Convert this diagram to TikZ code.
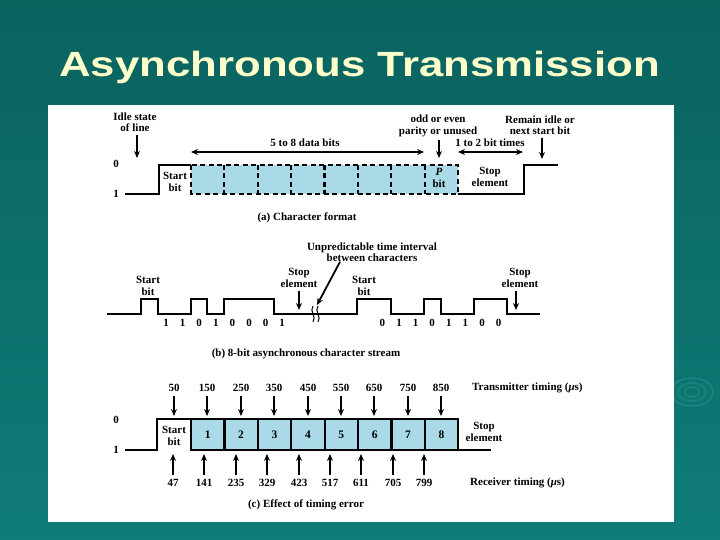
\documentclass[tikz,border=0pt]{standalone}
\usepackage{fontspec}
\usepackage{graphicx}
\setmainfont{Liberation Serif}
\newfontfamily\titlefont{Liberation Sans}
\usetikzlibrary{arrows.meta}
\definecolor{bgtop}{RGB}{10,98,95}
\definecolor{bgbot}{RGB}{15,124,120}
\definecolor{ringc}{RGB}{32,132,128}
\definecolor{titlec}{RGB}{255,255,204}
\definecolor{bitblue}{RGB}{170,217,232}

\begin{document}
\begin{tikzpicture}[
    x=1pt, y=-1pt,
    ttl/.style={font=\titlefont\bfseries\fontsize{35}{40}\selectfont, text=titlec, anchor=base, inner sep=0pt},
    lbl/.style={font=\bfseries\fontsize{11}{11.5}\selectfont, align=center, inner sep=0pt},
    figcap/.style={lbl},
    sig/.style={line width=2.2pt},
    dbox/.style={line width=2.2pt, dash pattern=on 5pt off 3.5pt},
    bitbox/.style={draw, line width=2.2pt, fill=bitblue, minimum width=33.4pt, minimum height=31pt, inner sep=0pt, outer sep=0pt, font=\bfseries\fontsize{11.5}{12}\selectfont},
    arr/.style={-{Stealth[length=7pt, width=6pt]}, line width=1.8pt, shorten <=3pt},
    darr/.style={{Stealth[length=7pt, width=6pt]}-{Stealth[length=7pt, width=6pt]}, line width=1.6pt},
    ring/.style={draw=ringc, line width=1.4pt},
]
\useasboundingbox (0,0) rectangle (720,540);

% slide background
\shade[top color=bgtop, bottom color=bgbot] (0,0) rectangle (720,540);
\draw[ring] (692,392) ellipse (7pt and 5pt);
\draw[ring] (692,392) ellipse (14pt and 9pt);
\draw[ring] (692,392) ellipse (21pt and 14pt);
\node[ttl] (title) at (359.5,77) {\scalebox{1.25}[1]{Asynchronous Transmission}};
\fill[white] (48,105) rectangle (674,522);

% (a) Character format
\node[lbl] (idle) at (135,122) {Idle state\\of line};
\coordinate (idleTip) at (137,158);
\node[lbl] (lvl0a) at (116,164) {0};
\node[lbl] (lvl1a) at (116,194) {1};
\draw[sig] (125,194) -- (159,194) -- (159,165) -- (191,165);
\fill[bitblue] (191,165) rectangle (458,194);
\draw[dbox] (191,165) rectangle (458,194);
\foreach \k in {1,...,7}
    \draw[dbox] ({191+33.375*\k},165) -- ({191+33.375*\k},194);
\draw[sig] (458,194) -- (524,194) -- (524,165) -- (558,165);
\node[lbl] (starta) at (175,182) {Start\\bit};
\node[lbl] (pbit) at (439,178) {\textit{P}\\bit};
\node[lbl] (stopa) at (490,177) {Stop\\element};
\node[lbl] (databits) at (305,143) {5 to 8 data bits};
\coordinate (dataL) at (191,152);
\coordinate (dataR) at (424,152);
\node[lbl] (parity) at (438,126) {odd or even\\parity or unused};
\coordinate (parityTip) at (439,158);
\node[lbl] (bittimes) at (490,143) {1 to 2 bit times};
\coordinate (stopL) at (458,152);
\coordinate (stopR) at (523,152);
\node[lbl] (remain) at (540,125) {Remain idle or\\next start bit};
\coordinate (remainTip) at (542,159);
\node[figcap] (capA) at (307,218) {(a) Character format};

\draw[arr] (idle.south -| idleTip) -- (idleTip);
\draw[darr] (dataL) -- (dataR);
\draw[arr] (parity.south -| parityTip) -- (parityTip);
\draw[darr] (stopL) -- (stopR);
\draw[arr] (remain.south -| remainTip) -- (remainTip);

% (b) 8-bit asynchronous character stream
\draw[sig] (107,314) -- (141,314) -- (141,299) -- (158,299) -- (158,314)
    -- (191,314) -- (191,299) -- (207,299) -- (207,314) -- (224,314)
    -- (224,299) -- (274,299) -- (274,314) -- (357,314) -- (357,299)
    -- (391,299) -- (391,314) -- (424,314) -- (424,299) -- (441,299)
    -- (441,314) -- (474,314) -- (474,299) -- (507,299) -- (507,314) -- (540,314);
\draw[line width=1pt] (313,306) .. controls (309,311) and (317,317) .. (313,322);
\draw[line width=1pt] (318,306) .. controls (314,311) and (322,317) .. (318,322);
\foreach \v [count=\i] in {1,1,0,1,0,0,0,1}
    \node[lbl] (bitA\i) at ({149.4+16.6*\i},323) {\v};
\foreach \v [count=\i] in {0,1,1,0,1,1,0,0}
    \node[lbl] (bitB\i) at ({365.8+16.6*\i},323) {\v};
\node[lbl] (startb1) at (148,286) {Start\\bit};
\node[lbl] (startb2) at (364,286) {Start\\bit};
\node[lbl] (stopb1) at (299,278) {Stop\\element};
\coordinate (stopb1Tip) at (299,310);
\node[lbl] (stopb2) at (520,278) {Stop\\element};
\coordinate (stopb2Tip) at (516,310);
\node[lbl] (gap) at (372,252) {Unpredictable time interval\\between characters};
\coordinate (gapTip) at (317,305);
\node[figcap] (capB) at (306,354) {(b) 8-bit asynchronous character stream};

\draw[arr] (stopb1.south -| stopb1Tip) -- (stopb1Tip);
\draw[arr] (stopb2.south -| stopb2Tip) -- (stopb2Tip);
\draw[arr, shorten <=0pt] ([xshift=-32pt]gap.south) -- (gapTip);

% (c) Effect of timing error
\node[lbl] (lvl0c) at (116,420) {0};
\node[lbl] (lvl1c) at (116,450) {1};
\draw[sig] (125,450) -- (157,450) -- (157,419) -- (191,419);
\foreach \i in {1,...,8}
    \node[bitbox] (box\i) at ({174.3+33.4*\i},434.5) {\i};
\draw[sig] (box8.south east) -- (491,450);
\node[lbl] (startc) at (174,436) {Start\\bit};
\node[lbl] (stopc) at (484,432) {Stop\\element};
\foreach \v [count=\i] in {50,150,250,350,450,550,650,750,850} {
    \node[lbl] (tx\i) at ({round(157.3+0.334*\v)},388) {\v};
    \coordinate (txTip\i) at ({round(157.3+0.334*\v)},416);
    \draw[arr, shorten <=4pt] (tx\i) -- (txTip\i);
}
\foreach \v [count=\i] in {47,141,235,329,423,517,611,705,799} {
    \node[lbl] (rx\i) at ({round(157.3+0.334*\v)},483) {\v};
    \coordinate (rxTip\i) at ({round(157.3+0.334*\v)},454);
    \draw[arr, shorten <=4pt] (rx\i) -- (rxTip\i);
}
\node[lbl, anchor=west] (txtime) at (472,388) {Transmitter timing (\textit{μ}s)};
\node[lbl, anchor=west] (rxtime) at (470,483) {Receiver timing (\textit{μ}s)};
\node[figcap] (capC) at (306,505) {(c) Effect of timing error};

\end{tikzpicture}
\end{document}
